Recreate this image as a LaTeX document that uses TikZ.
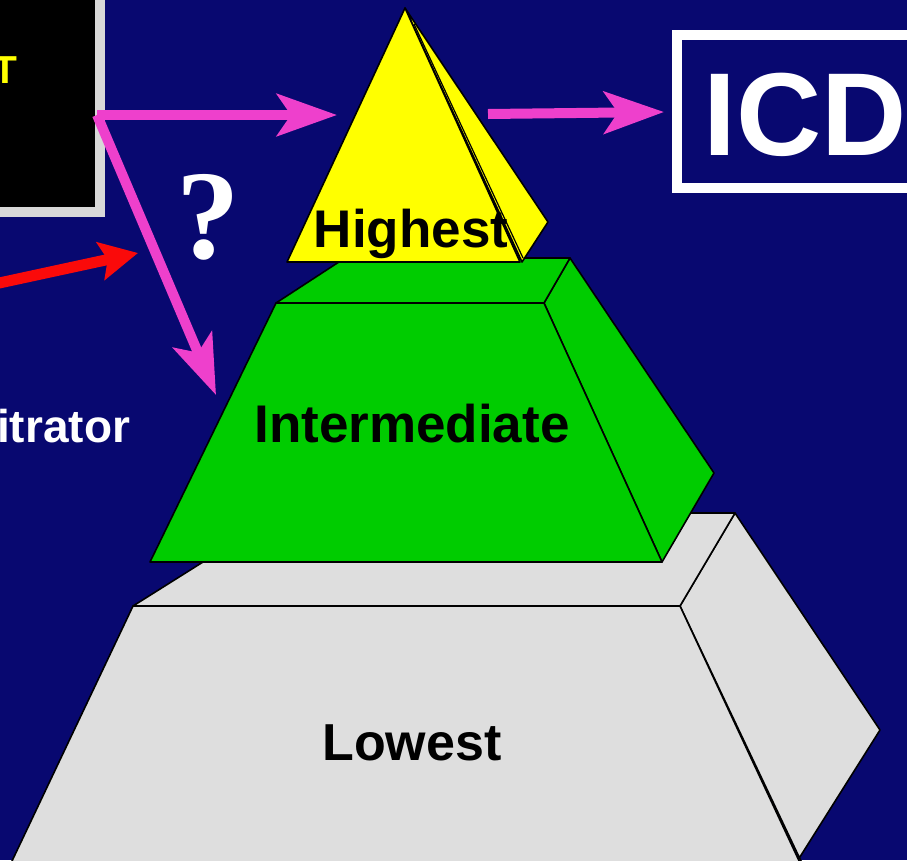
\documentclass[tikz,border=0pt]{standalone}
\usepackage{fontspec}
\setmainfont{Liberation Sans}
\newfontfamily\qfont{Liberation Serif}
\usetikzlibrary{arrows.meta}
\definecolor{navy}{RGB}{8,8,112}
\definecolor{boxgray}{RGB}{216,216,216}
\definecolor{stonegray}{RGB}{222,222,222}
\definecolor{leafgreen}{RGB}{0,204,0}
\definecolor{topyellow}{RGB}{255,255,0}
\definecolor{pink}{RGB}{238,64,204}
\definecolor{hotred}{RGB}{250,10,10}
\tikzset{
  face/.style={draw=black, line width=1.6pt, line join=round},
  pinkarrow/.style={draw=pink, line width=10pt,
    -{Stealth[length=60pt,width=42pt,inset=14pt]}},
  redarrow/.style={draw=hotred, line width=11pt,
    -{Stealth[length=38pt,width=38pt,inset=7pt]}},
  levellabel/.style={inner sep=0pt, text=black, anchor=base},
}
\begin{document}
\begin{tikzpicture}[x=1pt,y=-1pt]
\useasboundingbox (0,0) rectangle (907,860);
\clip (0,0) rectangle (907,860);
\fill[navy] (0,0) rectangle (907,860);

% black panel at the upper left
\draw[draw=boxgray, line width=10pt, fill=black] (-30,-30) rectangle (100,212);
\node[anchor=base east, inner sep=0pt, text=topyellow,
      font=\fontsize{39}{40}\selectfont\bfseries] (tag) at (18,83) {T};
\coordinate (src) at (97,115);

% ICD box
\draw[white, line width=10pt] (677,35) rectangle (960,188);
\node[anchor=base west, inner sep=0pt, text=white,
      font=\fontsize{118}{120}\selectfont\bfseries] (icd) at (703,155) {ICD};

% lowest level
\filldraw[face, fill=stonegray] (680,606) -- (735,513) -- (880,730) -- (798,860) -- (810,880) -- cycle;
\filldraw[face, fill=stonegray] (133,606) -- (230,545) -- (260,513) -- (735,513) -- (680,606) -- cycle;
\filldraw[face, fill=stonegray] (133,606) -- (680,606) -- (808,880) -- (3,880) -- cycle;
\node[levellabel, font=\fontsize{52}{54}\selectfont\bfseries] (low) at (412,760) {Lowest};

% intermediate level
\filldraw[face, fill=leafgreen] (544,303) -- (570,258) -- (714,473) -- (662,562) -- cycle;
\filldraw[face, fill=leafgreen] (276,303) -- (345,258) -- (570,258) -- (544,303) -- cycle;
\filldraw[face, fill=leafgreen] (276,303) -- (544,303) -- (662,562) -- (150,562) -- cycle;
\node[levellabel, font=\fontsize{53}{55}\selectfont\bfseries] (mid) at (412,442) {Intermediate};

% highest level
\filldraw[face, fill=topyellow] (405,8) -- (548,222) -- (522,262) -- cycle;
\filldraw[face, fill=topyellow] (405,8) -- (287,262) -- (520,262) -- cycle;
\draw[black, line width=1.2pt] (414,24) -- (523,258);
\node[levellabel, font=\fontsize{53}{55}\selectfont\bfseries] (high) at (411,247) {Highest};

% side labels
\node[anchor=base west, inner sep=0pt, text=white,
      font=\fontsize{46}{48}\selectfont\bfseries] (role) at (-3,442) {itrator};
\node[anchor=base, inner sep=0pt, text=white,
      font=\fontsize{127}{130}\selectfont\qfont\bfseries] (query) at (208,258) {?};

% connectors
\coordinate (hightip) at (337,115);
\coordinate (midtip) at (216,395);
\coordinate (highout) at (488,114);
\coordinate (icdtip) at (664,112);
\coordinate (redtail) at (-10,285);
\coordinate (redtip) at (138,253);
\draw[pinkarrow] (src) -- (hightip);
\draw[pinkarrow] (src) -- (midtip);
\draw[pinkarrow] (highout) -- (icdtip);
\draw[redarrow] (redtail) -- (redtip);
\end{tikzpicture}
\end{document}
